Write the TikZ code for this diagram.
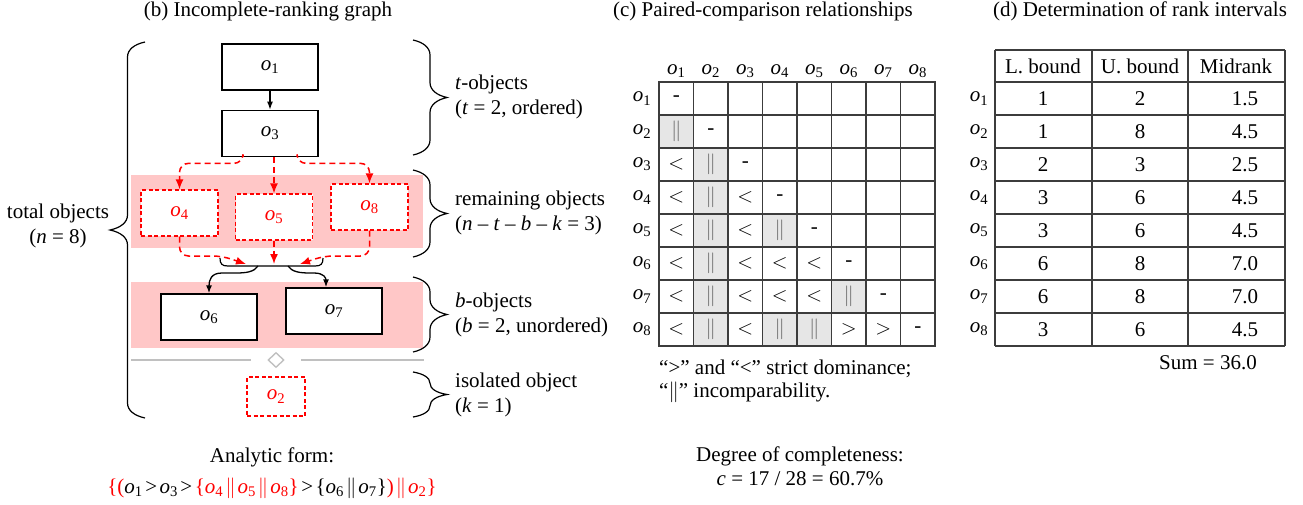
\documentclass[tikz,border=0pt]{standalone}
\usepackage{fontspec}
\setmainfont{Liberation Serif}
\usetikzlibrary{arrows.meta,positioning,calc,shapes.geometric}
\definecolor{bandpink}{RGB}{255,199,199}
\definecolor{sepgray}{RGB}{192,192,192}
\definecolor{cellgray}{RGB}{230,230,230}
\definecolor{objred}{RGB}{255,0,0}
\definecolor{gridgray}{RGB}{60,60,60}
\newcommand{\ob}[1]{\textit{o}\textsubscript{#1}}
\newcommand{\rless}{$<$}
\newcommand{\rmore}{$>$}
\newcommand{\rinc}{\textcolor{black!60}{$\|$}}
\newcommand{\rnone}{-}
\newcommand{\gtop}{\kern2.5pt>\kern2.5pt}
\newcommand{\incop}{\kern2pt$\|$\kern2pt}
% curly brace drawn by hand: x, top, bottom, width (negative points left)
\newcommand{\grpbrace}[4]{%
  \pgfmathsetmacro{\bmid}{(#2+#3)/2}
  \pgfmathsetmacro{\bcurl}{min(15,(#3-#2)/4)}
  \draw[bracepen] (#1,#2)
    .. controls ({#1+0.3*(#4)},{#2+0.15*\bcurl}) and ({#1+0.5*(#4)},{#2+0.5*\bcurl}) .. ({#1+0.5*(#4)},{#2+\bcurl})
    -- ({#1+0.5*(#4)},{\bmid-\bcurl})
    .. controls ({#1+0.5*(#4)},{\bmid-0.5*\bcurl}) and ({#1+0.7*(#4)},{\bmid-0.15*\bcurl}) .. ({#1+(#4)},\bmid)
    .. controls ({#1+0.7*(#4)},{\bmid+0.15*\bcurl}) and ({#1+0.5*(#4)},{\bmid+0.5*\bcurl}) .. ({#1+0.5*(#4)},{\bmid+\bcurl})
    -- ({#1+0.5*(#4)},{#3-\bcurl})
    .. controls ({#1+0.5*(#4)},{#3-0.5*\bcurl}) and ({#1+0.3*(#4)},{#3-0.15*\bcurl}) .. (#1,#3);
}
\tikzset{
  bracepen/.style={line width=1.2pt},
  gridpen/.style={draw=gridgray, line width=1.3pt},
  ptitle/.style={anchor=base},
}

\begin{document}
\begin{tikzpicture}[
  x=1pt, y=-1pt,
  font=\fontsize{21}{25}\selectfont,
  objbox/.style={draw, line width=1.3pt, fill=white, minimum width=96pt, minimum height=46pt, inner sep=0pt},
  redbox/.style={objbox, draw=objred, text=objred, dash pattern=on 4pt off 2.5pt, minimum width=77pt},
  band/.style={fill=bandpink, draw=none, inner sep=0pt, minimum width=292pt},
  redarr/.style={-{Latex[length=10pt,width=8pt]}, line width=1.5pt, draw=objred, dash pattern=on 6pt off 4pt, rounded corners=9pt},
  blkarr/.style={-{Latex[length=8pt,width=6pt]}, line width=1.3pt},
  grplabel/.style={anchor=west, align=left, inner sep=0pt},
  sepline/.style={draw=sepgray, line width=1.5pt},
]
  \useasboundingbox (0,0) rectangle (1303,504);

  % (b) incomplete-ranking graph
  \node[ptitle] (tb) at (268,16) {(b) Incomplete-ranking graph};
  \node[band, minimum height=73pt] (band1) at (277,211.5) {};
  \node[band, minimum height=66pt] (band2) at (277,315) {};

  \node[objbox] (o1) at (270,67) {\ob{1}};
  \node[objbox, below=19pt of o1] (o3) {\ob{3}};
  \node[redbox] (o4) at (179.5,213) {\ob{4}};
  \node[redbox] (o5) at (274,217) {\ob{5}};
  \node[redbox] (o8) at (369.5,207) {\ob{8}};
  \node[objbox] (o6) at (209,317) {\ob{6}};
  \node[objbox] (o7) at (334,311) {\ob{7}};
  \node[redbox, minimum width=58pt, minimum height=39pt] (o2) at (276,396.5) {\ob{2}};

  \draw[blkarr] (o1) -- (o3);
  \draw[redarr] ([xshift=-27pt]o3.south) |- ($(o4.north)+(0,-26)$) -- (o4.north);
  \draw[redarr] (o3.south -| o5.north) -- (o5.north);
  \draw[redarr] ([xshift=27pt]o3.south) |- ($(o8.north)+(0,-20)$) -- (o8.north);

  \coordinate (jl) at (246,264);
  \coordinate (jm) at (274,264);
  \coordinate (jr) at (300,264);
  \draw[redarr] (o4.south) |- ($(jl)+(-24,-8)$) -- (jl);
  \draw[redarr] (o5.south) -- (jm);
  \draw[redarr] (o8.south) |- ($(jr)+(24,-8)$) -- (jr);

  % split brace towards the b-objects
  \coordinate (ul) at (220,258);
  \coordinate (ur) at (323,258);
  \draw[bracepen] (ul) .. controls (220,264) and (222,266) .. (228,266) -- (315,266) .. controls (321,266) and (323,264) .. (ur);
  \coordinate (sl) at (258,266);
  \coordinate (sr) at (288,266);
  \draw[blkarr] (sl) .. controls (254,272) and (246,273) .. (236,273) -- (222,273)
    .. controls (211,273) and (209,280) .. (o6.north);
  \draw[blkarr] (sr) .. controls (292,272) and (300,273) .. (310,273) -- (314,273)
    .. controls (324,273) and (326,278) .. ([xshift=-8pt]o7.north);

  \node[draw=sepgray, line width=1.4pt, diamond, inner sep=0pt, minimum width=16pt, minimum height=15pt] (sep) at (276,360) {};
  \coordinate (sepl) at (131,360);
  \coordinate (sepr) at (424,360);
  \draw[sepline] (sepl) -- ([xshift=-25pt]sep.center);
  \draw[sepline] ([xshift=25pt]sep.center) -- (sepr);

  \grpbrace{145}{42}{418}{-35}
  \grpbrace{413}{40}{155}{34}
  \grpbrace{413}{170}{257}{34}
  \grpbrace{413}{277}{352}{34}
  \grpbrace{413}{372}{417}{34}

  \node[align=center] (nlab) at (58,226) {total objects\\(\textit{n} = 8)};
  \node[grplabel] (tlab) at (455,97) {\textit{t}-objects\\(\textit{t} = 2, ordered)};
  \node[grplabel] (rlab) at (455,213) {remaining objects\\(\textit{n} -- \textit{t} -- \textit{b} -- \textit{k} = 3)};
  \node[grplabel] (blab) at (455,315) {\textit{b}-objects\\(\textit{b} = 2, unordered)};
  \node[grplabel] (klab) at (455,395) {isolated object\\(\textit{k} = 1)};

  \node[ptitle] (af) at (272,462) {Analytic form:};
  \node[ptitle] (afx) at (272,493) {\textcolor{objred}{\{(}\ob{1}\gtop\ob{3}\gtop\textcolor{objred}{\{\ob{4}\incop\ob{5}\incop\ob{8}\}}\gtop\{\ob{6}\incop\ob{7}\}\textcolor{objred}{)\incop\ob{2}\}}};

  % (c) paired-comparison matrix
  \node[ptitle] (tc) at (763,16) {(c) Paired-comparison relationships};
  \foreach \ri/\ci in {2/1,3/2,4/2,5/2,6/2,7/2,8/2,5/4,7/6,8/4,8/5}
    \fill[cellgray] ({659+34.5*(\ci-1)},{82+33*(\ri-1)}) rectangle ++(34.5,33);
  \foreach \k in {0,...,8} {
    \draw[gridpen] ({659+34.5*\k},82) -- ({659+34.5*\k},346);
    \draw[gridpen] (659,{82+33*\k}) -- (935,{82+33*\k});
  }
  \draw[gridpen, line width=1.8pt] (659,82) rectangle (935,346);
  \foreach \k in {1,...,8} {
    \node (ch\k) at ({659+34.5*(\k-0.5)},71) {\ob{\k}};
    \node (rh\k) at (642,{82+33*(\k-0.5)}) {\ob{\k}};
  }
  \foreach \row [count=\ri] in {{\rnone},{\rinc,\rnone},{\rless,\rinc,\rnone},
      {\rless,\rinc,\rless,\rnone},{\rless,\rinc,\rless,\rinc,\rnone},
      {\rless,\rinc,\rless,\rless,\rless,\rnone},{\rless,\rinc,\rless,\rless,\rless,\rinc,\rnone},
      {\rless,\rinc,\rless,\rinc,\rinc,\rmore,\rmore,\rnone}}
    \foreach \e [count=\ci] in \row
      \node at ({659+34.5*(\ci-0.5)},{82+33*(\ri-0.5)}) {\e};
  \node[anchor=north west, align=left, inner sep=0pt, font=\fontsize{21}{23}\selectfont] (note) at (659,360)
    {``>'' and ``<'' strict dominance;\\``$\|$'' incomparability.};
  \node[ptitle] (deg) at (800,461) {Degree of completeness:};
  \node[ptitle] (cval) at (800,485) {\textit{c} = 17 / 28 = 60.7\%};

  % (d) rank intervals
  \node[ptitle] (td) at (1140,16) {(d) Determination of rank intervals};
  \foreach \xx in {995,1092,1188,1285}
    \draw[gridpen] (\xx,50) -- (\xx,346);
  \draw[gridpen] (995,50) -- (1285,50);
  \foreach \k in {0,...,8}
    \draw[gridpen] (995,{82+33*\k}) -- (1285,{82+33*\k});
  \node (hl) at (1043,66) {L. bound};
  \node (hu) at (1140,66) {U. bound};
  \node (hm) at (1236,66) {Midrank};
  \foreach \lb/\ub/\mr [count=\ri] in {1/2/1.5,1/8/4.5,2/3/2.5,3/6/4.5,3/6/4.5,6/8/7.0,6/8/7.0,3/6/4.5} {
    \node (tr\ri) at (979,{82+33*(\ri-0.5)}) {\ob{\ri}};
    \node at (1043,{82+33*(\ri-0.5)}) {\lb};
    \node at (1140,{82+33*(\ri-0.5)}) {\ub};
    \node at (1245,{82+33*(\ri-0.5)}) {\mr};
  }
  \node[ptitle] (sum) at (1208,369) {Sum = 36.0};
\end{tikzpicture}
\end{document}
